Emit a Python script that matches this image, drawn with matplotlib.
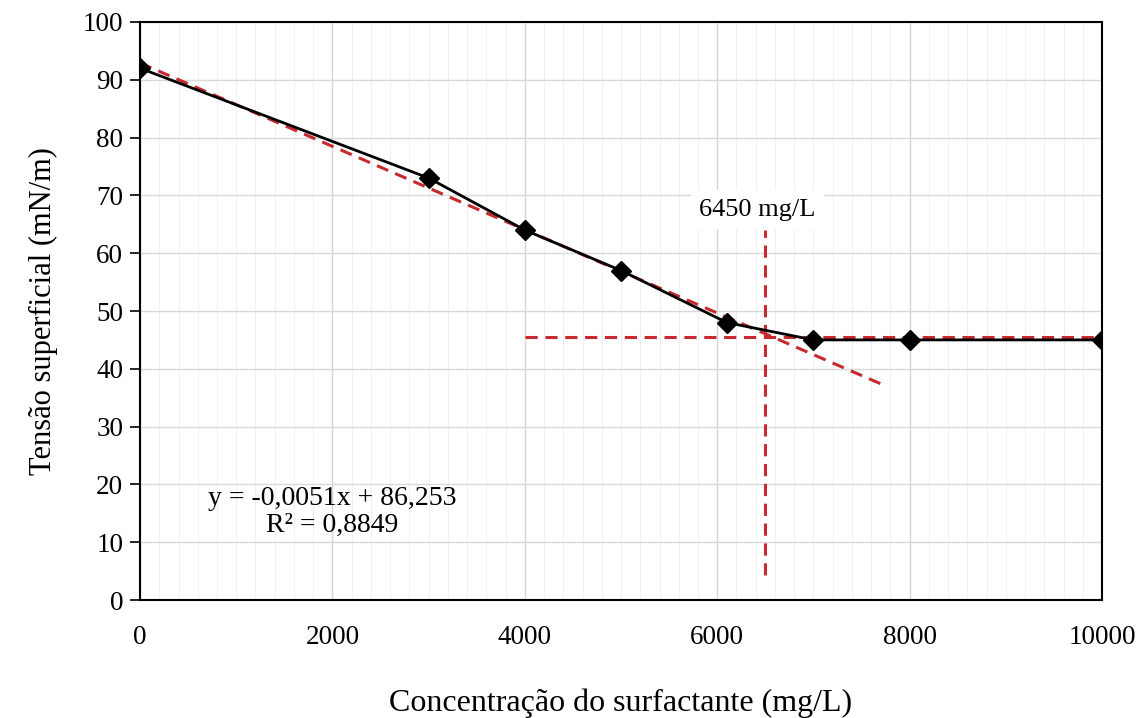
import matplotlib.pyplot as plt
from matplotlib.ticker import MultipleLocator

# dados
concentracao = [0, 3000, 4000, 5000, 6100, 7000, 8000, 10000]
tensao = [92, 73, 64, 57, 48, 45, 45, 45]

# linha de tendencia (regressao dos 5 primeiros pontos)
tendencia_x = [0, 7700]
tendencia_y = [92.9, 37.4]

# linhas que marcam a CMC
cmc_horiz_x = [4000, 10000]
cmc_horiz_y = [45.5, 45.5]
cmc_vert_x = [6500, 6500]
cmc_vert_y = [4.3, 64]

plt.rcParams['font.family'] = ['Liberation Serif', 'DejaVu Serif']

fig, ax = plt.subplots(figsize=(11.45, 7.18), dpi=100)
fig.subplots_adjust(left=0.1223, right=0.9625, top=0.9694, bottom=0.1643)

vermelho = '#c62a2f'
tracejado = (0, (4, 2.5))
ax.plot(concentracao, tensao, color='black', linewidth=2, marker='D', markersize=10.5,
        markerfacecolor='black', markeredgecolor='black', zorder=4)
ax.plot(tendencia_x, tendencia_y, color=vermelho, linestyle=tracejado, linewidth=2.2, zorder=3)
ax.plot(cmc_horiz_x, cmc_horiz_y, color=vermelho, linestyle=tracejado, linewidth=2.2, zorder=3)
ax.plot(cmc_vert_x, cmc_vert_y, color=vermelho, linestyle=tracejado, linewidth=2.2, zorder=3)

ax.text(6420, 67.5, '6450 mg/L', fontsize=19, ha='center', va='center',
        bbox=dict(facecolor='white', edgecolor='none', pad=6), zorder=2)
ax.text(2000, 15.3, 'y = -0,0051x + 86,253\nR² = 0,8849', fontsize=20,
        ha='center', va='center', linespacing=1.1)

ax.set_xlim(0, 10000)
ax.set_ylim(0, 100)
ax.xaxis.set_major_locator(MultipleLocator(2000))
ax.xaxis.set_minor_locator(MultipleLocator(200))
ax.yaxis.set_major_locator(MultipleLocator(10))

ax.grid(True, which='major', axis='y', color='#d9d9d9', linewidth=1)
ax.grid(True, which='major', axis='x', color='#d4d4d4', linewidth=1)
ax.grid(True, which='minor', axis='x', color='#f0f0f0', linewidth=0.8)
ax.set_axisbelow(True)

for lado in ax.spines.values():
    lado.set_color('black')
    lado.set_linewidth(1.5)

ax.tick_params(axis='y', which='major', direction='out', length=7, width=1.2, labelsize=19.5, pad=5)
ax.tick_params(axis='x', which='both', length=0, labelsize=19.5, pad=18)

ax.set_xlabel('Concentração do surfactante (mg/L)', fontsize=23, labelpad=28)
ax.set_ylabel('Tensão superficial (mN/m)', fontsize=22, labelpad=18)

fig.savefig('out.png', dpi=100)
